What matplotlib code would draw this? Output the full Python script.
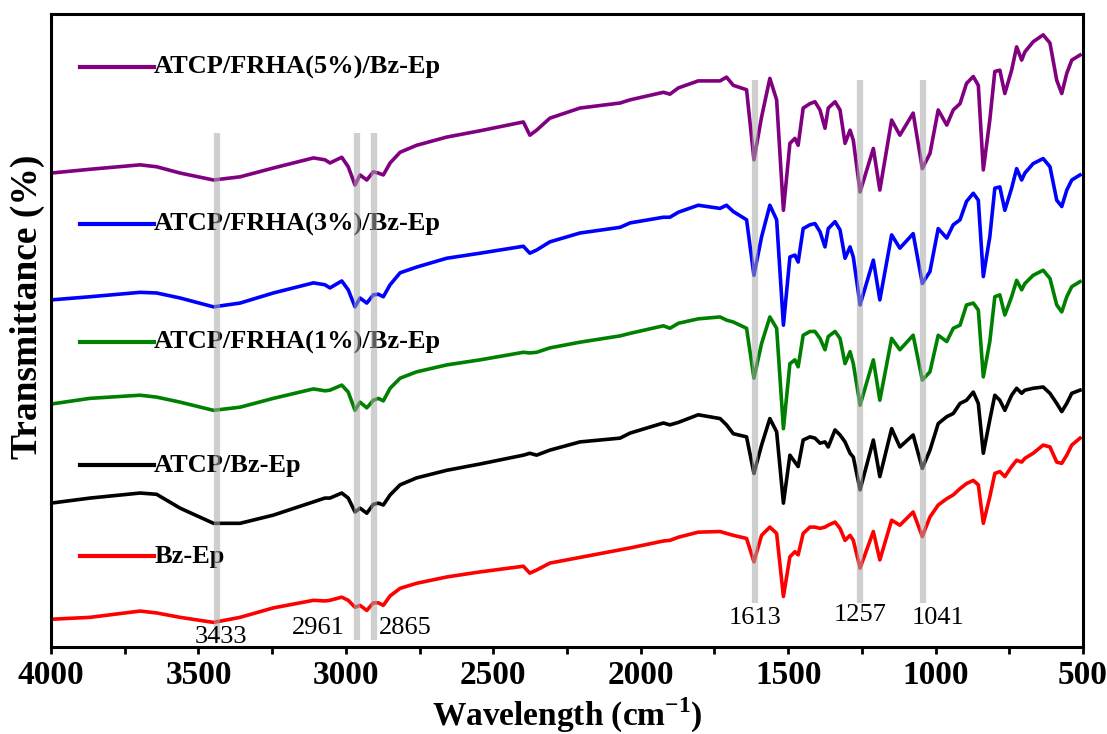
"""
FTIR spectra of Bz-Ep and ATCP / FRHA modified resins, stacked with offsets.
Values were read off the reference figure (arbitrary transmittance units).
"""

import matplotlib
matplotlib.use('Agg')
import matplotlib.pyplot as plt
from matplotlib.ticker import MultipleLocator


# ── Data ─────────────────────────────────────────────────────────────────────
WAVENUMBER = [
    4000, 3868, 3698, 3642, 3562, 3449, 3359, 3246, 3110, 3071,
    3054, 3014, 2992, 2969, 2952, 2929, 2907, 2890, 2873, 2850,
    2816, 2760, 2658, 2545, 2398, 2376, 2353, 2308, 2206, 2070,
    2036, 1923, 1901, 1872, 1805,
    1731, 1709, 1686, 1641, 1616, 1590, 1562, 1539, 1516, 1494,
    1477, 1466, 1449, 1426, 1409, 1392, 1375, 1364, 1341, 1324,
    1307, 1290, 1279, 1256, 1211, 1189, 1149, 1121, 1076, 1045,
    1019, 991, 962, 940, 917, 895, 872, 855, 838, 816,
    799, 782, 765, 742, 725, 708, 697, 669, 635, 612,
    589, 572, 555, 538, 510,
]

FRHA5 = [
    74.8, 75.4, 76.1, 75.8, 74.8, 73.7, 74.2, 75.6, 77.2, 76.9,
    76.4, 77.3, 75.8, 72.9, 74.5, 73.7, 75.0, 74.8, 74.5, 76.4,
    78.1, 79.2, 80.5, 81.5, 82.9, 80.8, 81.6, 83.5, 85.1, 85.9,
    86.4, 87.6, 87.3, 88.3, 89.4,
    89.4, 90.0, 88.7, 88.0, 76.9, 83.7, 89.8, 86.4, 68.9, 79.5,
    80.3, 79.2, 85.1, 85.8, 86.1, 84.8, 81.9, 85.1, 86.1, 84.8,
    79.5, 81.6, 80.0, 71.8, 78.7, 72.1, 83.2, 80.8, 84.3, 75.5,
    77.9, 84.8, 82.4, 84.8, 85.8, 89.0, 90.1, 88.7, 75.3, 83.2,
    90.9, 91.1, 87.4, 91.1, 94.8, 92.7, 94.0, 95.6, 96.7, 95.4,
    89.5, 87.4, 90.6, 92.7, 93.5,
]

FRHA3 = [
    54.7, 55.2, 55.9, 55.8, 55.0, 53.6, 54.2, 55.8, 57.4, 57.1,
    56.6, 57.7, 56.3, 53.6, 55.0, 54.2, 55.5, 55.6, 55.2, 57.1,
    59.0, 59.9, 61.3, 62.1, 63.2, 62.1, 62.6, 63.9, 65.3, 66.2,
    66.9, 67.8, 67.8, 68.6, 69.7,
    69.2, 69.7, 68.7, 67.4, 58.6, 64.7, 69.7, 67.4, 50.7, 61.5,
    61.8, 60.7, 66.0, 66.6, 66.8, 65.5, 63.1, 66.0, 67.1, 65.8,
    61.3, 63.1, 61.5, 53.9, 61.0, 54.7, 65.0, 62.9, 65.2, 57.3,
    59.2, 66.0, 64.5, 66.6, 67.4, 70.3, 71.6, 70.5, 58.4, 64.7,
    72.4, 72.6, 68.9, 72.4, 75.5, 73.7, 74.8, 76.3, 77.1, 75.8,
    70.5, 69.5, 72.1, 73.7, 74.5,
]

FRHA1 = [
    38.2, 39.1, 39.6, 39.3, 38.5, 37.2, 37.7, 39.1, 40.6, 40.3,
    40.4, 41.2, 40.1, 37.2, 38.5, 37.6, 38.8, 39.1, 38.7, 40.7,
    42.3, 43.3, 44.4, 45.2, 46.4, 46.3, 46.4, 47.1, 48.0, 49.0,
    49.4, 50.6, 50.2, 51.0, 51.7,
    52.0, 51.5, 51.2, 50.2, 42.3, 47.8, 52.0, 50.2, 34.3, 44.6,
    45.2, 44.1, 49.1, 49.7, 49.7, 48.6, 46.8, 48.9, 49.7, 48.6,
    44.6, 46.5, 44.6, 38.0, 45.2, 38.8, 48.6, 46.8, 49.1, 42.0,
    43.3, 49.1, 48.1, 50.2, 50.7, 53.9, 54.2, 53.1, 42.5, 48.1,
    55.2, 55.5, 52.3, 55.2, 57.8, 56.3, 57.3, 58.6, 59.4, 58.1,
    53.9, 52.8, 55.2, 56.8, 57.6,
]

ATCP = [
    22.5, 23.3, 24.1, 23.9, 21.7, 19.3, 19.3, 20.6, 22.7, 23.3,
    23.3, 24.1, 23.3, 21.1, 21.7, 20.9, 22.3, 22.5, 22.2, 23.8,
    25.4, 26.5, 27.7, 28.7, 30.1, 30.4, 30.1, 30.9, 32.2, 32.8,
    33.6, 35.2, 34.9, 35.3, 36.5,
    35.9, 34.9, 33.5, 33.0, 27.2, 31.7, 35.9, 33.8, 22.5, 30.1,
    29.0, 28.3, 32.5, 33.0, 32.8, 32.0, 32.2, 31.4, 34.1, 33.3,
    32.2, 30.4, 29.8, 24.6, 32.5, 26.7, 34.3, 31.4, 33.3, 28.0,
    30.9, 35.1, 36.2, 36.7, 38.3, 38.8, 40.1, 38.3, 30.4, 35.7,
    39.6, 38.8, 37.2, 39.6, 40.7, 39.9, 40.4, 40.7, 40.9, 39.9,
    38.3, 37.0, 38.3, 39.9, 40.4,
]

BZ_EP = [
    4.1, 4.4, 5.4, 5.1, 4.4, 3.6, 4.4, 5.9, 7.1, 7.0,
    7.1, 7.6, 7.1, 6.0, 6.3, 5.5, 6.7, 6.7, 6.3, 7.8,
    9.0, 9.8, 10.8, 11.6, 12.5, 11.4, 11.9, 13.0, 13.9, 15.1,
    15.4, 16.5, 16.6, 17.1, 17.9,
    18.0, 17.7, 17.4, 16.9, 13.2, 17.4, 18.7, 17.7, 7.7, 14.0,
    14.8, 14.3, 17.7, 18.7, 18.7, 18.5, 18.7, 19.0, 19.5, 18.5,
    16.6, 17.4, 16.6, 12.2, 18.0, 13.5, 19.8, 19.0, 21.1, 17.2,
    20.3, 22.2, 23.2, 23.8, 24.8, 25.6, 26.1, 25.4, 19.3, 23.5,
    27.2, 27.5, 26.7, 28.3, 29.3, 29.0, 29.6, 30.4, 31.7, 31.4,
    29.0, 28.8, 30.1, 31.7, 32.8,
]

SERIES = [
    ('ATCP/FRHA(5%)/Bz-Ep', FRHA5, '#800080', 91.6),
    ('ATCP/FRHA(3%)/Bz-Ep', FRHA3, '#0000ff', 66.7),
    ('ATCP/FRHA(1%)/Bz-Ep', FRHA1, '#008000', 48.0),
    ('ATCP/Bz-Ep',          ATCP,  '#000000', 28.5),
    ('Bz-Ep',               BZ_EP, '#ff0000', 14.1),
]

# characteristic bands: drawn position, label text, label x, label y, band extent
BAND_POS    = [3438, 2963, 2905, 1613, 1257, 1041]
BAND_TEXT   = ['3433', '2961', '2865', '1613', '1257', '1041']
BAND_TEXT_X = [3423, 3094, 2799, 1612, 1256, 992]
BAND_TEXT_Y = [1.3, 2.7, 2.7, 4.3, 4.8, 4.3]
BAND_TOP    = [81.1, 81.1, 81.1, 89.5, 89.5, 89.5]
BAND_BOTTOM = [0.8, 0.8, 0.8, 6.7, 6.7, 6.7]

SERIF = 'Liberation Serif'


# ── Plotting ─────────────────────────────────────────────────────────────────
plt.rcParams['font.family'] = [SERIF, 'DejaVu Serif']
plt.rcParams['mathtext.fontset'] = 'custom'
plt.rcParams['mathtext.rm'] = SERIF + ':bold'
plt.rcParams['mathtext.bf'] = SERIF + ':bold'

fig = plt.figure(figsize=(11.07, 7.34), dpi=100)
ax = fig.add_axes([0.0461, 0.1185, 0.9322, 0.8624])

for label, values, color, _ in SERIES:
    ax.plot(WAVENUMBER, values, color=color, lw=2.6, solid_joinstyle='round')

# short line + text "legend" on the left
for label, values, color, ly in SERIES:
    ax.plot([3902, 3650], [ly, ly], color=color, lw=3)
    ax.text(3650, ly, label, fontsize=19, fontweight='bold',
            ha='left', va='center')

# gray marker bands on top of the curves
for pos, top, bot in zip(BAND_POS, BAND_TOP, BAND_BOTTOM):
    ax.plot([pos, pos], [bot, top], color='#a8a8a8', lw=4.5, alpha=0.55,
            solid_capstyle='butt', zorder=5)

for txt, tx, ty in zip(BAND_TEXT, BAND_TEXT_X, BAND_TEXT_Y):
    ax.text(tx, ty, txt, fontsize=19, ha='center', va='center', zorder=6)

ax.set_xlim(4000, 500)
ax.set_ylim(-0.3, 100)
ax.xaxis.set_major_locator(MultipleLocator(500))
ax.xaxis.set_minor_locator(MultipleLocator(250))
ax.set_yticks([])

ax.tick_params(axis='x', which='both', direction='out', width=2, length=5,
               top=False)
ax.tick_params(axis='x', which='major', labelsize=24, pad=4)
for t in ax.get_xticklabels():
    t.set_fontweight('bold')

for side in ax.spines.values():
    side.set_linewidth(2.2)

ax.set_xlabel('Wavelength (cm$^{-1}$)', fontsize=24, fontweight='bold',
              va='baseline')
ax.xaxis.set_label_coords(0.5, -0.1248)
ax.set_ylabel('Transmittance (%)', fontsize=27, fontweight='bold')
ax.yaxis.set_label_coords(-0.006, 0.537)

fig.savefig('out.png', dpi=100)
